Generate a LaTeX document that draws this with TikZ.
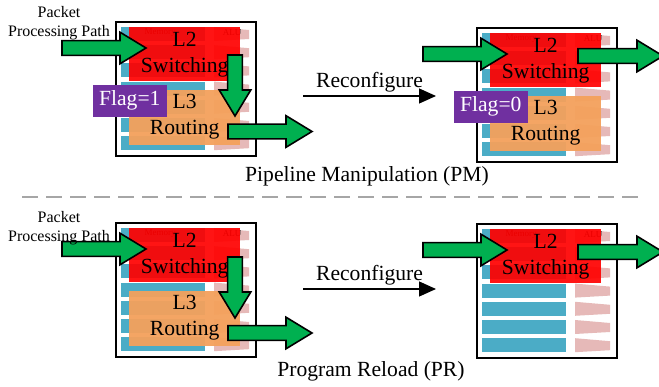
\documentclass[tikz,border=0pt]{standalone}
\usepackage{fontspec}
\setmainfont{Liberation Serif}
\usetikzlibrary{positioning,calc,arrows.meta}

\definecolor{tabblue}{RGB}{75,172,198}
\definecolor{alupink}{RGB}{230,185,184}
\definecolor{layerred}{RGB}{255,0,0}
\definecolor{layerorange}{RGB}{244,161,92}
\definecolor{flagpurple}{RGB}{112,48,160}
\definecolor{pathgreen}{RGB}{0,176,80}
\definecolor{sepgray}{RGB}{166,166,166}

\tikzset{
  pics/pipe/.style={code={
    \node[chipframe] (-frame) at (0,0) {};
    \foreach \r in {0,...,6}{
      \fill[tabblue] (6,{6+18.2*\r}) rectangle ++(84,14);
      \fill[alupink] (99,{6+18.2*\r}) -- (134,{9+18.2*\r})
        -- (134,{18+18.2*\r}) -- (99,{20+18.2*\r}) -- cycle;
    }
    \node[faint] (-mem) at (45,12) {Memory};
    \node[faint] (-alu) at (117,12) {ALU};
  }},
  pics/garrow/.style={code={
    \draw[arrowfill] (0,-7.4) -- ({#1-26},-7.4) -- ({#1-26},-15.8)
      -- (#1,0) -- ({#1-26},15.8) -- ({#1-26},7.4) -- (0,7.4) -- cycle;
  }}
}

\begin{document}
\begin{tikzpicture}[
x=1pt,y=-1pt,
font=\fontsize{21.6}{26}\selectfont,
chipframe/.style={
  draw,
  line width=1.6pt,
  fill=white,
  minimum width=140pt,
  minimum height=134pt,
  inner sep=0pt,
  anchor=north west
},
faint/.style={
  font=\fontsize{9}{10}\selectfont,
  text=black,
  inner sep=0pt
},
l2box/.style={
  fill=layerred,
  fill opacity=0.92,
  text opacity=1,
  minimum width=111pt,
  minimum height=54pt,
  inner sep=0pt,
  align=center
},
l3box/.style={
  fill=layerorange,
  fill opacity=0.95,
  text opacity=1,
  minimum width=111pt,
  minimum height=55pt,
  inner sep=0pt,
  align=center
},
flag/.style={
  fill=flagpurple,
  text=white,
  minimum width=74pt,
  minimum height=32pt,
  inner sep=0pt
},
arrowfill/.style={
  fill=pathgreen,
  draw=black,
  line width=1.6pt,
  line join=miter
},
pktlabel/.style={
  font=\fontsize{16}{19}\selectfont,
  align=center,
  inner sep=0pt
},
reconf/.style={
  line width=1.3pt,
  -{Triangle[length=17pt,width=15pt]}
},
sep/.style={
  draw=sepgray,
  line width=2pt,
  dash pattern=on 16pt off 8pt
}
]
\useasboundingbox (0,0) rectangle (659,387);

% pipeline manipulation, before
\pic (pmA) at (115,21) {pipe};
\node[l2box,below right=6pt and 14pt of pmA-frame.north west]
  (pmA-l2) {L2\\Switching};
\node[l3box,below=8pt of pmA-l2]
  (pmA-l3) {L3\\Routing};
\node[flag,anchor=north east] at ($(pmA-l3.north west)+(38,-5)$)
  (pmA-flag) {Flag=1};
\pic at ($(pmA-frame.north west)+(-53,27)$) {garrow=84};
\pic[rotate=-90] at ($(pmA-frame.north west)+(120,34)$) {garrow=61};
\pic at ($(pmA-frame.north west)+(113,110.5)$) {garrow=84};
\node[pktlabel] (pktA) at (59,23) {Packet\\Processing Path};

% pipeline manipulation, after
\pic (pmB) at (476,27) {pipe};
\node[l2box,below right=6pt and 14pt of pmB-frame.north west]
  (pmB-l2) {L2\\Switching};
\node[l3box,below=8pt of pmB-l2]
  (pmB-l3) {L3\\Routing};
\node[flag,anchor=north east] at ($(pmB-l3.north west)+(38,-5)$)
  (pmB-flag) {Flag=0};
\pic at ($(pmB-frame.north west)+(-53,27)$) {garrow=84};
\pic at ($(pmB-frame.north west)+(102,29)$) {garrow=85};

\coordinate (rcA-s) at (303,96);
\coordinate (rcA-e) at (436,96);
\draw[reconf] (rcA-s) -- node[above=3pt,inner sep=0pt] (rcA-t) {Reconfigure} (rcA-e);
\node[anchor=base] (capPM) at (367,182) {Pipeline Manipulation (PM)};

\coordinate (sepL) at (22,197);
\coordinate (sepR) at (643,197);
\draw[sep] (sepL) -- (sepR);

% program reload, before
\pic (prA) at (115,222) {pipe};
\node[l2box,below right=6pt and 14pt of prA-frame.north west]
  (prA-l2) {L2\\Switching};
\node[l3box,below=8pt of prA-l2]
  (prA-l3) {L3\\Routing};
\pic at ($(prA-frame.north west)+(-53,27)$) {garrow=84};
\pic[rotate=-90] at ($(prA-frame.north west)+(120,35)$) {garrow=61};
\pic at ($(prA-frame.north west)+(113,111)$) {garrow=84};
\node[pktlabel] (pktB) at (59,228) {Packet\\Processing Path};

% program reload, after
\pic (prB) at (476,223) {pipe};
\node[l2box,below right=6pt and 14pt of prB-frame.north west]
  (prB-l2) {L2\\Switching};
\pic at ($(prB-frame.north west)+(-53,27)$) {garrow=84};
\pic at ($(prB-frame.north west)+(102,29)$) {garrow=85};

\coordinate (rcB-s) at (303,289);
\coordinate (rcB-e) at (436,289);
\draw[reconf] (rcB-s) -- node[above=3pt,inner sep=0pt] (rcB-t) {Reconfigure} (rcB-e);
\node[anchor=base] (capPR) at (371,377) {Program Reload (PR)};
\end{tikzpicture}
\end{document}
